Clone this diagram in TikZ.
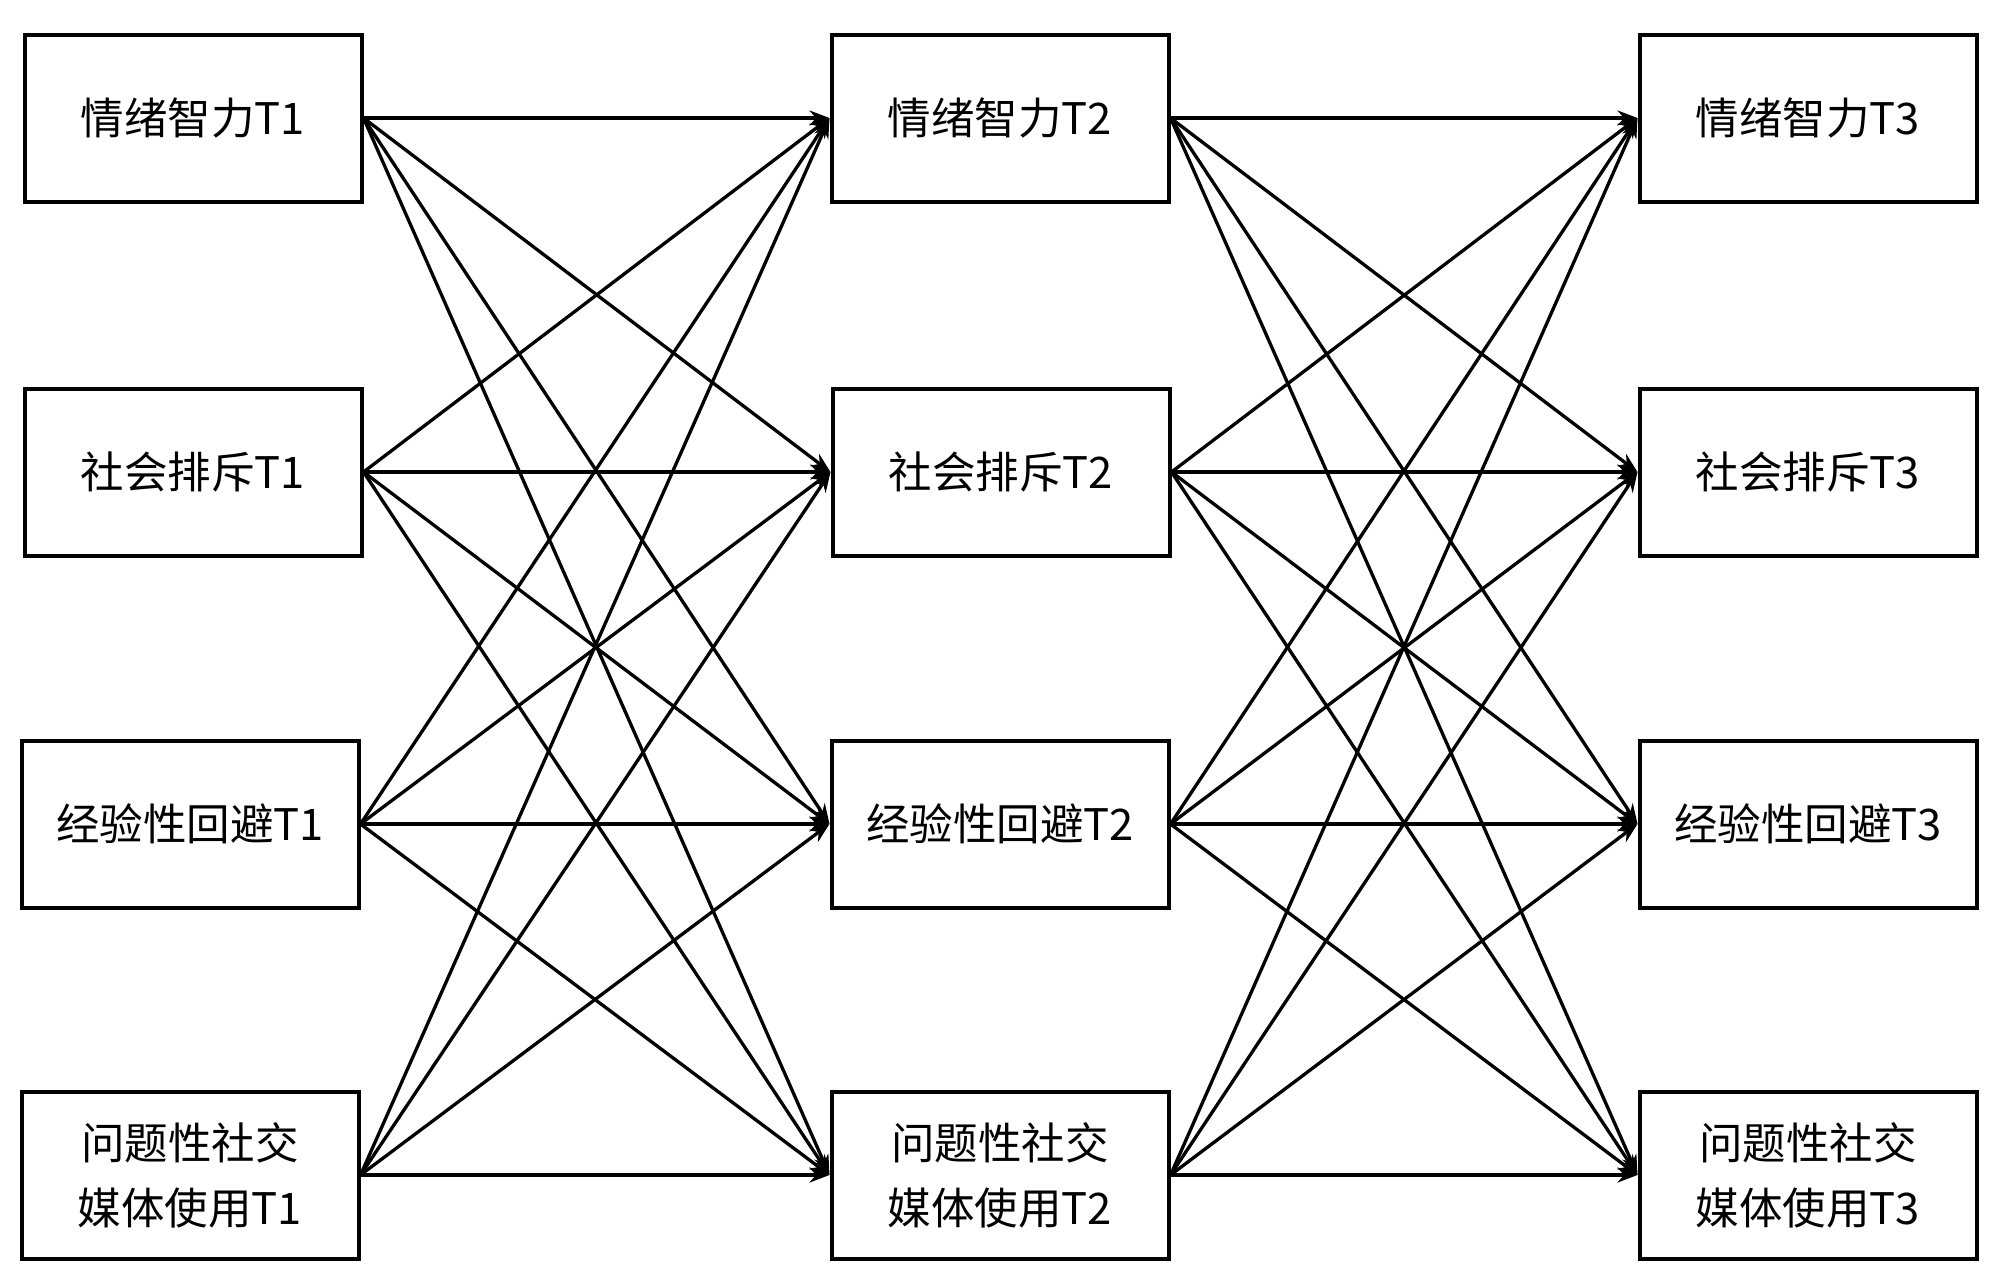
\documentclass[tikz,border=0pt]{standalone}
\usepackage{fontspec}
\setmainfont{Noto Sans CJK SC}
\usetikzlibrary{arrows.meta}
\begin{document}
\begin{tikzpicture}[x=1pt,y=-1pt,
  box/.style={draw=black,line width=4pt,minimum width=337pt,minimum height=167pt,align=center,inner sep=0pt,
    font=\fontsize{43.5}{65}\selectfont},
  link/.style={line width=3.3pt,-{Stealth[length=20pt,width=15pt]}}]
\useasboundingbox (0,0) rectangle (1999,1275);
\def\rowA{118}\def\rowB{472}\def\rowC{824}\def\rowD{1175}
\node[box] (a1) at (193,\rowA) {情绪智力T1};
\node[box] (b1) at (193,\rowB) {社会排斥T1};
\node[box] (c1) at (190,\rowC) {经验性回避T1};
\node[box] (d1) at (190,\rowD) {问题性社交\\媒体使用T1};
\node[box] (a2) at (1000,\rowA) {情绪智力T2};
\node[box] (b2) at (1001,\rowB) {社会排斥T2};
\node[box] (c2) at (1000,\rowC) {经验性回避T2};
\node[box] (d2) at (1000,\rowD) {问题性社交\\媒体使用T2};
\node[box] (a3) at (1808,\rowA) {情绪智力T3};
\node[box] (b3) at (1808,\rowB) {社会排斥T3};
\node[box] (c3) at (1808,\rowC) {经验性回避T3};
\node[box] (d3) at (1808,\rowD) {问题性社交\\媒体使用T3};
\foreach \s in {a,b,c,d}{
  \foreach \t in {a,b,c,d}{
    \draw[link] (\s1.east) -- (\t2.west);
    \draw[link] (\s2.east) -- (\t3.west);
  }
}
\end{tikzpicture}
\end{document}
